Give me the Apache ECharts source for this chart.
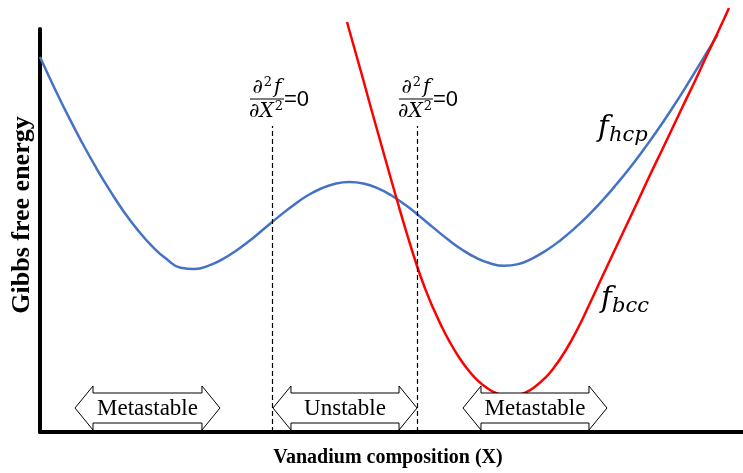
<!DOCTYPE html>
<html>
<head>
<meta charset="utf-8">
<script src="https://cdn.jsdelivr.net/npm/echarts@6/dist/echarts.min.js"></script>
<style>
  html, body { margin: 0; padding: 0; background: #fff; }
  #chart { width: 743px; height: 473px; }
</style>
</head>
<body>
<div id="chart"></div>
<script>
// Free-energy curves vs. composition (x: 0-100, y: arbitrary units)
const hcpCurve = [
  [0, 93.05], [2, 85.56], [4, 78.43], [6, 71.77], [8, 65.51], [10, 59.76], [12, 54.49],
  [14, 49.9], [16, 46.0], [18, 42.9], [20, 40.75], [22, 40.45], [24, 41.29], [26, 42.9],
  [28, 45.11], [30, 47.72], [32, 50.6], [34, 53.5], [36, 56.23], [38, 58.61], [40, 60.42],
  [42, 61.61], [44, 62.03], [46, 61.66], [48, 60.52], [50, 58.68], [52, 56.3], [54, 53.55],
  [56, 50.65], [58, 47.82], [60, 45.29], [62, 43.25], [64, 41.86], [66, 41.24], [68, 41.66],
  [70, 43.05], [72, 45.04], [74, 47.54], [76, 50.47], [78, 53.77], [80, 57.44], [82, 61.46],
  [84, 65.76], [86, 70.4], [88, 75.31], [90, 80.52], [92, 86.0], [94, 91.71], [96.4, 98.6]
];
const bccCurve = [
  [43.67, 101.74], [44.81, 94.67], [45.95, 87.59], [47.08, 80.4], [48.36, 72.46],
  [49.5, 65.38], [50.78, 57.57], [52.2, 49.13], [53.63, 41.19], [54.77, 35.63],
  [55.9, 30.84], [57.04, 26.53], [58.32, 22.23], [59.46, 18.93], [60.74, 15.76],
  [61.88, 13.45], [63.02, 11.64], [64.01, 10.42], [65.01, 9.55], [65.86, 9.11],
  [66.86, 8.93], [67.71, 9.06], [68.56, 9.43], [69.42, 10.12], [70.41, 11.22],
  [71.83, 13.4], [72.97, 15.63], [74.68, 19.98], [76.39, 25.31], [78.24, 32.01],
  [80.09, 38.96], [82.5, 47.89], [84.92, 56.82], [86.77, 63.77], [88.62, 70.47],
  [91.32, 80.4], [93.17, 87.1], [94.88, 93.55], [96.44, 99.26], [98.01, 105.21]
];

// Inflection points (d2f/dX2 = 0) and the stability regions marked by arrows
const spinodalX = [33.0, 53.63];
const spinodalTop = 75.9;
const regionLabels = ['Metastable', 'Unstable', 'Metastable'];
const regionStart = [4.98, 33.14, 60.17];
const regionEnd = [25.6, 53.63, 80.65];

const serif = '"Liberation Serif", "Times New Roman", serif';
const mathFont = '"DejaVu Serif", serif';

const chart = echarts.init(document.getElementById('chart'));

chart.setOption({
  animation: false,
  grid: { left: 40, right: 0, top: 29, bottom: 41, containLabel: false, outerBoundsMode: 'none' },
  xAxis: {
    type: 'value', min: 0, max: 100,
    axisLine: { show: true, onZero: false, lineStyle: { color: '#000', width: 4 } },
    axisTick: { show: false }, axisLabel: { show: false }, splitLine: { show: false }
  },
  yAxis: {
    type: 'value', min: 0, max: 100,
    axisLine: { show: true, onZero: false, lineStyle: { color: '#000', width: 4 } },
    axisTick: { show: false }, axisLabel: { show: false }, splitLine: { show: false }
  },
  series: [
    {
      name: 'hcp', type: 'line', data: hcpCurve, smooth: 0.5, symbol: 'none', clip: false,
      lineStyle: { color: '#4472C4', width: 2.5 },
      markLine: {
        silent: true, symbol: 'none', label: { show: false },
        lineStyle: { color: '#000', type: [5, 3], width: 1.2 },
        data: spinodalX.map(x => [{ coord: [x, 0] }, { coord: [x, spinodalTop] }])
      }
    },
    {
      name: 'bcc', type: 'line', data: bccCurve, smooth: 0.5, symbol: 'none', clip: false,
      lineStyle: { color: '#FF0000', width: 2.5 }
    }
  ]
});

// Annotations positioned from data coordinates
const px = (x, y) => chart.convertToPixel({ gridIndex: 0 }, [x, y]);
const graphics = [];

// Axis titles
graphics.push({
  type: 'text', x: 22, y: 215, rotation: Math.PI / 2,
  style: { text: 'Gibbs free energy', fontFamily: serif, fontWeight: 'bold', fontSize: 26, fill: '#000', align: 'center', verticalAlign: 'middle' }
});
graphics.push({
  type: 'text', x: 388, y: 458,
  style: { text: 'Vanadium composition (X)', fontFamily: serif, fontWeight: 'bold', fontSize: 20, fill: '#000', align: 'center', verticalAlign: 'middle' }
});

// Double-headed block arrows with region names
const yc = 408, bodyHalf = 15, headHalf = 22, headLen = 18;
regionLabels.forEach((label, i) => {
  const l = px(regionStart[i], 0)[0];
  const r = px(regionEnd[i], 0)[0];
  graphics.push({
    type: 'polygon', z: 10,
    shape: { points: [
      [l, yc], [l + headLen, yc - headHalf], [l + headLen, yc - bodyHalf],
      [r - headLen, yc - bodyHalf], [r - headLen, yc - headHalf], [r, yc],
      [r - headLen, yc + headHalf], [r - headLen, yc + bodyHalf],
      [l + headLen, yc + bodyHalf], [l + headLen, yc + headHalf]
    ] },
    style: { fill: '#fff', stroke: '#000', lineWidth: 1 }
  });
  graphics.push({
    type: 'text', z: 11, x: (l + r) / 2, y: yc + 1,
    style: { text: label, fontFamily: serif, fontSize: 23, fill: '#000', align: 'center', verticalAlign: 'middle' }
  });
});

// d2f/dX2 = 0 labels above each dashed line
const mathRich = {
  m: { fontFamily: mathFont, fontStyle: 'italic', fontSize: 20, fill: '#000', verticalAlign: 'bottom', lineHeight: 22 },
  s: { fontFamily: mathFont, fontSize: 13, fill: '#000', verticalAlign: 'top', lineHeight: 22, padding: [0, 2, 0, 1] }
};
const labelShift = [-5, -1];
spinodalX.forEach((x, i) => {
  const cx = px(x, 0)[0] + labelShift[i];
  graphics.push({
    type: 'text', z: 11, x: cx, y: 87,
    style: { text: '{m|∂}{s|2}{m|f}', rich: mathRich, align: 'center', verticalAlign: 'middle' }
  });
  graphics.push({
    type: 'line', z: 11,
    shape: { x1: cx - 17, y1: 99, x2: cx + 17, y2: 99 },
    style: { stroke: '#000', lineWidth: 1.2 }
  });
  graphics.push({
    type: 'text', z: 11, x: cx, y: 111,
    style: { text: '{m|∂X}{s|2}', rich: mathRich, align: 'center', verticalAlign: 'middle' }
  });
  graphics.push({
    type: 'text', z: 11, x: cx + 17, y: 100,
    style: { text: '=0', fontFamily: '"Liberation Sans", sans-serif', fontSize: 22, fill: '#000', align: 'left', verticalAlign: 'middle' }
  });
});

// Curve names
function curveName(x, y, sub) {
  graphics.push({
    type: 'text', z: 11, x: x, y: y,
    style: { text: 'f', fontFamily: mathFont, fontStyle: 'italic', fontSize: 29, fill: '#000', align: 'left', verticalAlign: 'middle' }
  });
  graphics.push({
    type: 'text', z: 11, x: x + 11, y: y + 8,
    style: { text: sub, fontFamily: mathFont, fontStyle: 'italic', fontSize: 21, fill: '#000', align: 'left', verticalAlign: 'middle' }
  });
}
curveName(598, 128, 'hcp');
curveName(601, 299, 'bcc');

chart.setOption({ graphic: graphics });
</script>
</body>
</html>
